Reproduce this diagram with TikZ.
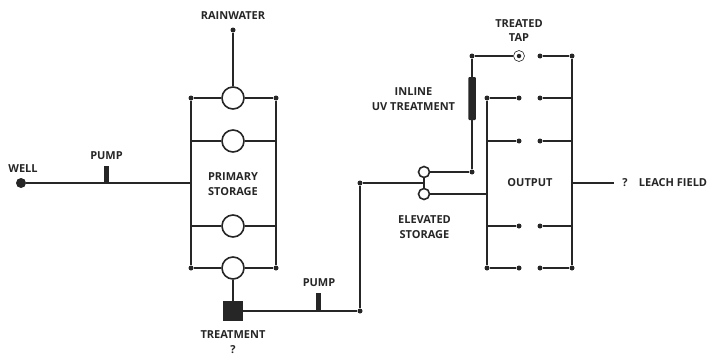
\documentclass[tikz,border=0pt]{standalone}
\usepackage{fontspec}
\setmainfont{Open Sans}
\definecolor{ink}{HTML}{262626}
\begin{document}
\begin{tikzpicture}[x=1pt,y=-1pt,
  pipe/.style={draw=ink,line width=1.8pt},
  thin pipe/.style={draw=ink,line width=1.4pt},
  jn/.style={circle,fill=ink,inner sep=0pt,minimum size=5pt},
  bigjn/.style={circle,fill=ink,inner sep=0pt,minimum size=10pt},
  tank/.style={circle,draw=ink,fill=white,line width=1.6pt,inner sep=0pt,minimum size=22pt},
  small tank/.style={circle,draw=ink,fill=white,line width=1.6pt,inner sep=0pt,minimum size=11pt},
  tap/.style={circle,draw=ink,fill=white,line width=0.6pt,inner sep=0pt,minimum size=11pt},
  bar/.style={fill=ink,inner sep=0pt},
  lbl/.style={text=ink,font=\fontsize{11}{14.8}\selectfont\bfseries,align=center,inner sep=0pt}]
\useasboundingbox (0,0) rectangle (709,356);
% junctions and points
\node[jn] (rain) at (233,30) {};
\node[bigjn] (well) at (21,183) {};
\node[jn] (pl1) at (191,98) {};
\node[jn] (pr1) at (276,98) {};
\node[jn] (pl4) at (191,268) {};
\node[jn] (pr4) at (276,268) {};
\coordinate (pl2) at (191,141);
\coordinate (pr2) at (276,141);
\coordinate (pl3) at (191,226);
\coordinate (pr3) at (276,226);
\coordinate (pin) at (191,183);
\node[jn] (rise) at (360,311) {};
\node[jn] (top) at (360,183) {};
\coordinate (mid) at (424,183);
\node[jn] (uvb) at (472,172) {};
\node[jn] (uvt) at (472,56) {};
\node[jn] (ol1) at (487,98) {};
\node[jn] (ol4) at (487,268) {};
\coordinate (ol2) at (487,141);
\coordinate (ol3) at (487,226);
\coordinate (oin) at (487,194);
\node[jn] (or0) at (572,56) {};
\node[jn] (or4) at (572,268) {};
\coordinate (or1) at (572,98);
\coordinate (or2) at (572,141);
\coordinate (or3) at (572,226);
\coordinate (oout) at (572,183);
\coordinate (leach) at (614,183);
\foreach \n/\x/\y in {a1/519/98,a2/519/141,a3/519/226,a4/519/268,b0/540/56,b1/540/98,b2/540/141,b3/540/226,b4/540/268}
  \node[jn] (\n) at (\x,\y) {};
% tanks
\node[tank] (t1) at (233,98) {};
\node[tank] (t2) at (233,141) {};
\node[tank] (t3) at (233,226) {};
\node[tank] (t4) at (233,268) {};
\node[small tank] (e1) at (424,172) {};
\node[small tank] (e2) at (424,194) {};
\node[tap] (tapn) at (519,56) {};
\node[jn,minimum size=4.5pt] (tapd) at (519,56) {};
\node[fill=ink,inner sep=0pt,minimum size=20.5pt] (treat) at (233,311) {};
% pipes
\draw[pipe] (rain) -- (t1);
\draw[pipe] (pl1) -- (t1) -- (pr1);
\draw[pipe] (pl2) -- (t2) -- (pr2);
\draw[pipe] (pl3) -- (t3) -- (pr3);
\draw[pipe] (pl4) -- (t4) -- (pr4);
\draw[pipe] (pl1) -- (pl4);
\draw[pipe] (pr1) -- (pr4);
\draw[thin pipe] (well) -- (pin);
\draw[pipe] (t4) -- (treat);
\draw[pipe] (treat) -- (rise);
\draw[pipe] (rise) -- (top);
\draw[thin pipe] (top) -- (mid);
\draw[pipe] (e1) -- (e2);
\draw[pipe] (e1) -- (uvb);
\draw[pipe] (uvb) -- (uvt);
\draw[pipe] (uvt) -- (tapn);
\draw[pipe] (e2) -- (oin);
\draw[pipe] (ol1) -- (ol4);
\draw[pipe] (or0) -- (or4);
\draw[pipe] (ol1) -- (a1);
\draw[pipe] (ol2) -- (a2);
\draw[pipe] (ol3) -- (a3);
\draw[pipe] (ol4) -- (a4);
\draw[pipe] (b0) -- (or0);
\draw[pipe] (b1) -- (or1);
\draw[pipe] (b2) -- (or2);
\draw[pipe] (b3) -- (or3);
\draw[pipe] (b4) -- (or4);
\draw[thin pipe] (oout) -- (leach);
% bars
\node[bar,minimum width=5pt,minimum height=18pt] (pump1) at (106,174.5) {};
\node[bar,minimum width=5pt,minimum height=18pt] (pump2) at (318,302) {};
\node[bar,minimum width=7.5pt,minimum height=43pt,rounded corners=1pt] (uv) at (472,98.5) {};
% labels
\node[lbl] (lrain) at (233,15.5) {RAINWATER};
\node[lbl] (lwell) at (23,169) {WELL};
\node[lbl] (lp1) at (106.5,156) {PUMP};
\node[lbl] (lprim) at (233,184.5) {PRIMARY\\STORAGE};
\node[lbl] (ltreat) at (233,342.5) {TREATMENT\\?};
\node[lbl] (lp2) at (319,283) {PUMP};
\node[lbl] (luv) at (413.5,99.5) {INLINE\\UV TREATMENT};
\node[lbl] (ltap) at (519,30.5) {TREATED\\TAP};
\node[lbl] (lelev) at (424.5,227) {ELEVATED\\STORAGE};
\node[lbl] (lout) at (530,182.5) {OUTPUT};
\node[lbl] (lq) at (625,182.5) {?};
\node[lbl] (lleach) at (673,182.5) {LEACH FIELD};
\end{tikzpicture}
\end{document}
